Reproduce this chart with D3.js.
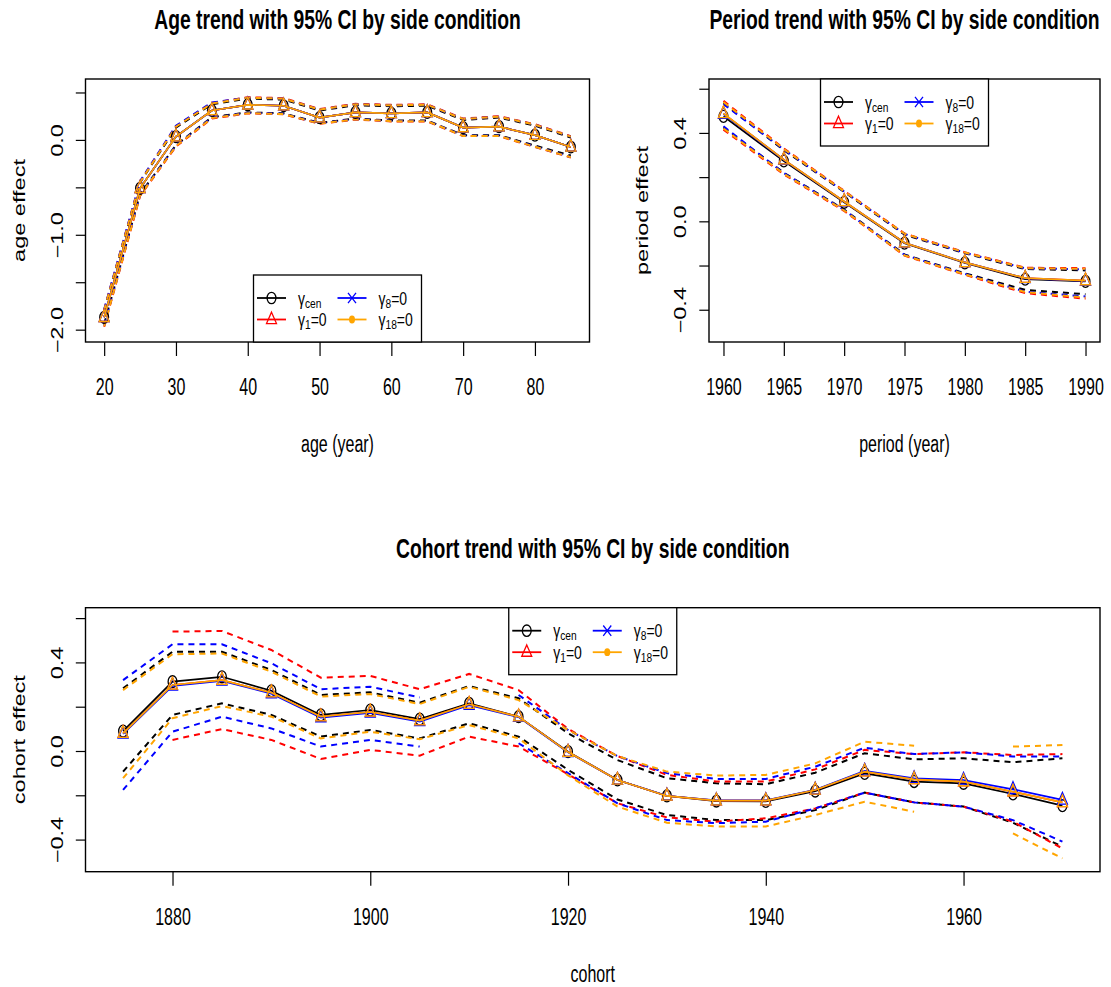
<!DOCTYPE html>
<html><head><meta charset="utf-8">
<script src="https://cdn.jsdelivr.net/npm/d3@7"></script>
<style>
body{margin:0;background:#fff}
svg{display:block}
text{font-family:"Liberation Sans",Arial,Helvetica,sans-serif;fill:#000}
</style>
</head><body>
<svg id="c" width="1111" height="987"></svg>
<script>
// ---------------- DATA ----------------
const conditions = ["cen","g1","g8","g18"];
const condColors = ["#000000","#FF0000","#0000FF","#FFA500"];
const plotMarks = ["circle","triangle","triangle","triangle"];
const legendMarks = ["circle","triangle","cross","dot"];
const legendSubs = ["cen","1","8","18"];
const legendSuffix = ["","=0","=0","=0"];

// Age panel
const ageX = [20,25,30,35,40,45,50,55,60,65,70,75,80,85];
const ageEstCen = [-1.87,-0.51,0.035,0.31,0.37,0.36,0.235,0.29,0.28,0.29,0.13,0.14,0.05,-0.075];
const ageEstG1  = [-1.87,-0.51,0.035,0.31,0.37,0.36,0.235,0.29,0.28,0.29,0.13,0.14,0.05,-0.075];
const ageEstG8  = [-1.87,-0.51,0.035,0.31,0.37,0.36,0.235,0.29,0.28,0.29,0.13,0.14,0.05,-0.075];
const ageEstG18 = [-1.87,-0.51,0.035,0.31,0.37,0.36,0.235,0.29,0.28,0.29,0.13,0.14,0.05,-0.075];
const ageHiCen = [-1.80,-0.45,0.13,0.375,0.435,0.425,0.31,0.365,0.355,0.36,0.21,0.235,0.15,0.025];
const ageLoCen = [-1.94,-0.57,-0.055,0.24,0.29,0.28,0.18,0.225,0.205,0.205,0.05,0.05,-0.06,-0.165];
const ageHiG1  = [-1.79,-0.44,0.145,0.39,0.45,0.44,0.325,0.38,0.37,0.375,0.225,0.25,0.165,0.04];
const ageLoG1  = [-1.97,-0.59,-0.07,0.225,0.28,0.27,0.17,0.215,0.195,0.195,0.04,0.04,-0.075,-0.185];
const ageHiG8  = [-1.785,-0.435,0.15,0.395,0.445,0.435,0.32,0.375,0.365,0.37,0.22,0.245,0.16,0.035];
const ageLoG8  = [-1.955,-0.58,-0.06,0.235,0.285,0.275,0.175,0.22,0.2,0.2,0.045,0.045,-0.07,-0.18];
const ageHiG18 = [-1.795,-0.445,0.14,0.385,0.445,0.435,0.32,0.375,0.365,0.37,0.22,0.245,0.16,0.035];
const ageLoG18 = [-1.965,-0.585,-0.065,0.23,0.282,0.272,0.172,0.218,0.198,0.198,0.042,0.042,-0.072,-0.182];
const ageXTicks = [20,30,40,50,60,70,80];
const ageYTicks = [-2,-1.5,-1,-0.5,0,0.5];
const ageYLabels = ["\u22122.0","","\u22121.0","","0.0",""];

// Period panel
const perX = [1960,1965,1970,1975,1980,1985,1990];
const perEstCen = [0.475,0.273,0.086,-0.099,-0.188,-0.262,-0.272];
const perEstG1  = [0.487,0.279,0.09,-0.097,-0.186,-0.257,-0.268];
const perEstG8  = [0.485,0.278,0.089,-0.097,-0.186,-0.258,-0.27];
const perEstG18 = [0.488,0.279,0.09,-0.097,-0.186,-0.257,-0.268];
const perHiCen = [0.535,0.322,0.133,-0.06,-0.145,-0.216,-0.222];
const perLoCen = [0.425,0.22,0.053,-0.15,-0.235,-0.31,-0.33];
const perHiG1  = [0.545,0.33,0.138,-0.055,-0.14,-0.21,-0.212];
const perLoG1  = [0.415,0.212,0.047,-0.155,-0.242,-0.325,-0.35];
const perHiG8  = [0.53,0.325,0.135,-0.057,-0.142,-0.213,-0.217];
const perLoG8  = [0.43,0.218,0.051,-0.152,-0.238,-0.318,-0.34];
const perHiG18 = [0.54,0.327,0.136,-0.056,-0.141,-0.212,-0.215];
const perLoG18 = [0.42,0.215,0.049,-0.154,-0.24,-0.32,-0.345];
const perXTicks = [1960,1965,1970,1975,1980,1985,1990];
const perYTicks = [-0.4,-0.2,0,0.2,0.4,0.6];
const perYLabels = ["\u22120.4","","0.0","","0.4",""];

// Cohort panel
const cohX = [1875,1880,1885,1890,1895,1900,1905,1910,1915,1920,1925,1930,1935,1940,1945,1950,1955,1960,1965,1970];
const cohEstCen = [0.09,0.313,0.335,0.272,0.163,0.185,0.144,0.215,0.155,-0.003,-0.131,-0.203,-0.226,-0.228,-0.181,-0.101,-0.138,-0.146,-0.194,-0.247];
const cohEstG1  = [0.08,0.298,0.32,0.263,0.155,0.176,0.137,0.211,0.155,-0.005,-0.131,-0.203,-0.224,-0.224,-0.176,-0.093,-0.128,-0.138,-0.184,-0.232];
const cohEstG8  = [0.077,0.294,0.316,0.259,0.151,0.172,0.133,0.207,0.153,-0.006,-0.131,-0.202,-0.223,-0.223,-0.175,-0.09,-0.124,-0.131,-0.173,-0.221];
const cohEstG18 = [0.08,0.298,0.32,0.263,0.155,0.176,0.137,0.211,0.155,-0.005,-0.131,-0.203,-0.224,-0.224,-0.176,-0.093,-0.128,-0.138,-0.184,-0.232];
const cohHiCen = [0.283,0.448,0.448,0.366,0.253,0.265,0.218,0.293,0.238,0.08,-0.041,-0.123,-0.146,-0.15,-0.098,-0.01,-0.038,-0.033,-0.051,-0.033];
const cohLoCen = [-0.093,0.163,0.215,0.163,0.065,0.095,0.057,0.125,0.065,-0.085,-0.219,-0.289,-0.312,-0.312,-0.267,-0.188,-0.232,-0.251,-0.324,-0.432];
const cohHiG1  = [null,0.539,0.542,0.456,0.331,0.339,0.279,0.348,0.275,0.1,-0.023,-0.108,-0.138,-0.138,-0.083,0.005,-0.014,-0.006,-0.018,-0.014];
const cohLoG1  = [null,0.05,0.099,0.05,-0.036,0.005,-0.021,0.065,0.02,-0.105,-0.236,-0.3,-0.319,-0.304,-0.259,-0.188,-0.232,-0.251,-0.319,-0.44];
const cohHiG8  = [0.32,0.482,0.482,0.396,0.279,0.29,0.242,null,0.253,0.095,-0.023,-0.1,-0.126,-0.126,-0.071,0.015,-0.014,-0.006,-0.025,-0.025];
const cohLoG8  = [-0.176,0.087,0.155,0.102,0.02,0.05,0.02,null,0.035,-0.1,-0.236,-0.312,-0.326,-0.319,-0.259,-0.188,-0.232,-0.251,-0.312,-0.409];
const cohHiG18 = [0.275,0.437,0.44,0.358,0.246,0.257,0.212,0.29,0.23,0.095,-0.023,-0.093,-0.111,-0.108,-0.056,0.042,0.024,null,0.02,0.027];
const cohLoG18 = [-0.123,0.148,0.203,0.155,0.057,0.087,0.053,0.117,0.057,-0.11,-0.251,-0.324,-0.341,-0.341,-0.289,-0.229,-0.274,null,-0.372,-0.485];
const cohXTicks = [1880,1900,1920,1940,1960];
const cohYTicks = [-0.4,-0.2,0,0.2,0.4,0.6];
const cohYLabels = ["\u22120.4","","0.0","","0.4",""];

// ---------------- DRAWING ----------------
const SY = 1.47;          // vertical stretch of the original rendering
const svg = d3.select("#c");
svg.append("rect").attr("width",1111).attr("height",987).attr("fill","#fff");

function stext(g, x, y, str, size, opt = {}) {
  const t = g.append("text")
    .attr("transform", `translate(${x},${y}) scale(1,${opt.sy || SY})${opt.rot ? " rotate(-90)" : ""}`)
    .attr("text-anchor", opt.anchor || "middle")
    .attr("font-size", size)
    .text(str);
  if (opt.bold) t.attr("font-weight", "bold");
  return t;
}

function marker(g, type, x, y, color, sy) {
  const m = g.append("g").attr("transform", `translate(${x},${y}) scale(1,${sy})`);
  const common = el => el.attr("stroke", color).attr("stroke-width", 1.3)
      .attr("vector-effect", "non-scaling-stroke");
  if (type === "circle") {
    common(m.append("circle").attr("r", 4.4).attr("fill", "none"));
  } else if (type === "triangle") {
    common(m.append("path").attr("d", "M0,-5.6L5,3.1L-5,3.1Z").attr("fill", "none"));
  } else if (type === "cross") {
    common(m.append("path").attr("d", "M-4,-4L4,4M-4,4L4,-4").attr("fill", "none"));
  } else if (type === "dot") {
    m.append("circle").attr("r", 3).attr("fill", color);
  }
}

function drawLegend(g, left, top) {
  const w = 168, h = 67;
  g.append("rect").attr("x", left).attr("y", top).attr("width", w).attr("height", h)
    .attr("fill", "#fff").attr("stroke", "#000").attr("stroke-width", 1.3);
  const rows = [top + 23, top + 44.5];
  const cols = [left + 3.5, left + 84];
  conditions.forEach((c, i) => {
    const cx = cols[Math.floor(i / 2)], cy = rows[i % 2];
    g.append("line").attr("x1", cx).attr("x2", cx + 29).attr("y1", cy).attr("y2", cy)
      .attr("stroke", condColors[i]).attr("stroke-width", 1.8);
    marker(g, legendMarks[i], cx + 14.5, cy, condColors[i], 1.3);
    const t = g.append("text")
      .attr("transform", `translate(${cx + 41},${cy + 6.5}) scale(1,1.3)`)
      .attr("font-size", 14);
    t.append("tspan").text("\u03B3");
    t.append("tspan").attr("font-size", 10.2).attr("dy", 2.4).text(legendSubs[i]);
    if (legendSuffix[i]) t.append("tspan").attr("dy", -2.4).text(legendSuffix[i]);
  });
}

function panel(cfg) {
  const g = svg.append("g");
  const { l, t, r, b } = cfg.box;
  const x = d3.scaleLinear().domain(cfg.xDomain).range([l, r]);
  const y = d3.scaleLinear().domain(cfg.yDomain).range([b, t]);

  // axes
  const gx = g.append("g").attr("transform", `translate(0,${b})`)
    .call(d3.axisBottom(x).tickValues(cfg.xTicks).tickSize(14).tickSizeOuter(0).tickFormat(d3.format("d")));
  gx.select(".domain").remove();
  gx.attr("font-size", 16).attr("font-family", null);
  gx.selectAll(".tick line").attr("stroke", "#000").attr("stroke-width", 1.2);
  gx.selectAll(".tick text").attr("y", 0).attr("dy", 0)
    .attr("transform", `translate(0,53) scale(1,${SY})`).attr("fill", "#000");

  const gy = g.append("g").attr("transform", `translate(${l},0)`)
    .call(d3.axisLeft(y).tickValues(cfg.yTicks).tickSize(9.7).tickSizeOuter(0)
      .tickFormat((d, i) => cfg.yLabels[i]));
  gy.select(".domain").remove();
  gy.attr("font-size", 16).attr("font-family", null);
  gy.selectAll(".tick line").attr("stroke", "#000").attr("stroke-width", 1.2);
  gy.selectAll(".tick text").attr("x", 0).attr("dy", 0).attr("text-anchor", "middle")
    .attr("transform", `translate(-22.7,0) scale(1,${SY}) rotate(-90)`).attr("fill", "#000");

  // clip
  const clipId = "clip" + Math.round(l) + "_" + Math.round(t);
  g.append("clipPath").attr("id", clipId).append("rect")
    .attr("x", l).attr("y", t).attr("width", r - l).attr("height", b - t);
  const plot = g.append("g").attr("clip-path", `url(#${clipId})`);

  const line = d3.line().defined(d => d[1] !== null && d[1] !== undefined)
    .x(d => x(d[0])).y(d => y(d[1]));

  // CI bands (dashed)
  conditions.forEach((c, i) => {
    [cfg.hi[i], cfg.lo[i]].forEach(arr => {
      plot.append("path").attr("d", line(cfg.xs.map((v, k) => [v, arr[k]])))
        .attr("fill", "none").attr("stroke", condColors[i]).attr("stroke-width", 2)
        .attr("stroke-dasharray", "6,5");
    });
  });
  // estimates with markers
  conditions.forEach((c, i) => {
    const pts = cfg.xs.map((v, k) => [v, cfg.est[i][k]]);
    plot.append("path").attr("d", line(pts)).attr("fill", "none")
      .attr("stroke", condColors[i]).attr("stroke-width", 1.7);
    pts.forEach(p => marker(plot, plotMarks[i], x(p[0]), y(p[1]), condColors[i], 1.35));
  });

  // box
  g.append("rect").attr("x", l).attr("y", t).attr("width", r - l).attr("height", b - t)
    .attr("fill", "none").attr("stroke", "#000").attr("stroke-width", 1.4);

  // legend
  const lw = 168, lh = 67;
  const lLeft = (l + r) / 2 - lw / 2;
  drawLegend(g, lLeft, cfg.legendPos === "top" ? t : b - lh);

  // titles
  const cx = (l + r) / 2;
  stext(g, cx, t - 50, cfg.title, 19.3, { bold: true });
  stext(g, cx, b + 110, cfg.xlab, 16);
  stext(g, l - 60.7, (t + b) / 2, cfg.ylab, 16, { rot: true });
}

panel({
  box: { l: 85.5, t: 79, r: 589.5, b: 342 },
  xDomain: [17.4, 87.6], yDomain: [-2.13, 0.642],
  xTicks: ageXTicks, yTicks: ageYTicks, yLabels: ageYLabels,
  xs: ageX,
  est: [ageEstCen, ageEstG1, ageEstG8, ageEstG18],
  hi: [ageHiCen, ageHiG1, ageHiG8, ageHiG18],
  lo: [ageLoCen, ageLoG1, ageLoG8, ageLoG18],
  legendPos: "bottom",
  title: "Age trend with 95% CI by side condition",
  xlab: "age (year)", ylab: "age effect"
});

panel({
  box: { l: 709, t: 79, r: 1100, b: 342 },
  xDomain: [1958.8, 1991.2], yDomain: [-0.546, 0.644],
  xTicks: perXTicks, yTicks: perYTicks, yLabels: perYLabels,
  xs: perX,
  est: [perEstCen, perEstG1, perEstG8, perEstG18],
  hi: [perHiCen, perHiG1, perHiG8, perHiG18],
  lo: [perLoCen, perLoG1, perLoG8, perLoG18],
  legendPos: "top",
  title: "Period trend with 95% CI by side condition",
  xlab: "period (year)", ylab: "period effect"
});

panel({
  box: { l: 85.5, t: 607.7, r: 1100, b: 871.7 },
  xDomain: [1871.2, 1973.8], yDomain: [-0.545, 0.647],
  xTicks: cohXTicks, yTicks: cohYTicks, yLabels: cohYLabels,
  xs: cohX,
  est: [cohEstCen, cohEstG1, cohEstG8, cohEstG18],
  hi: [cohHiCen, cohHiG1, cohHiG8, cohHiG18],
  lo: [cohLoCen, cohLoG1, cohLoG8, cohLoG18],
  legendPos: "top",
  title: "Cohort trend with 95% CI by side condition",
  xlab: "cohort", ylab: "cohort effect"
});
</script>
</body></html>
